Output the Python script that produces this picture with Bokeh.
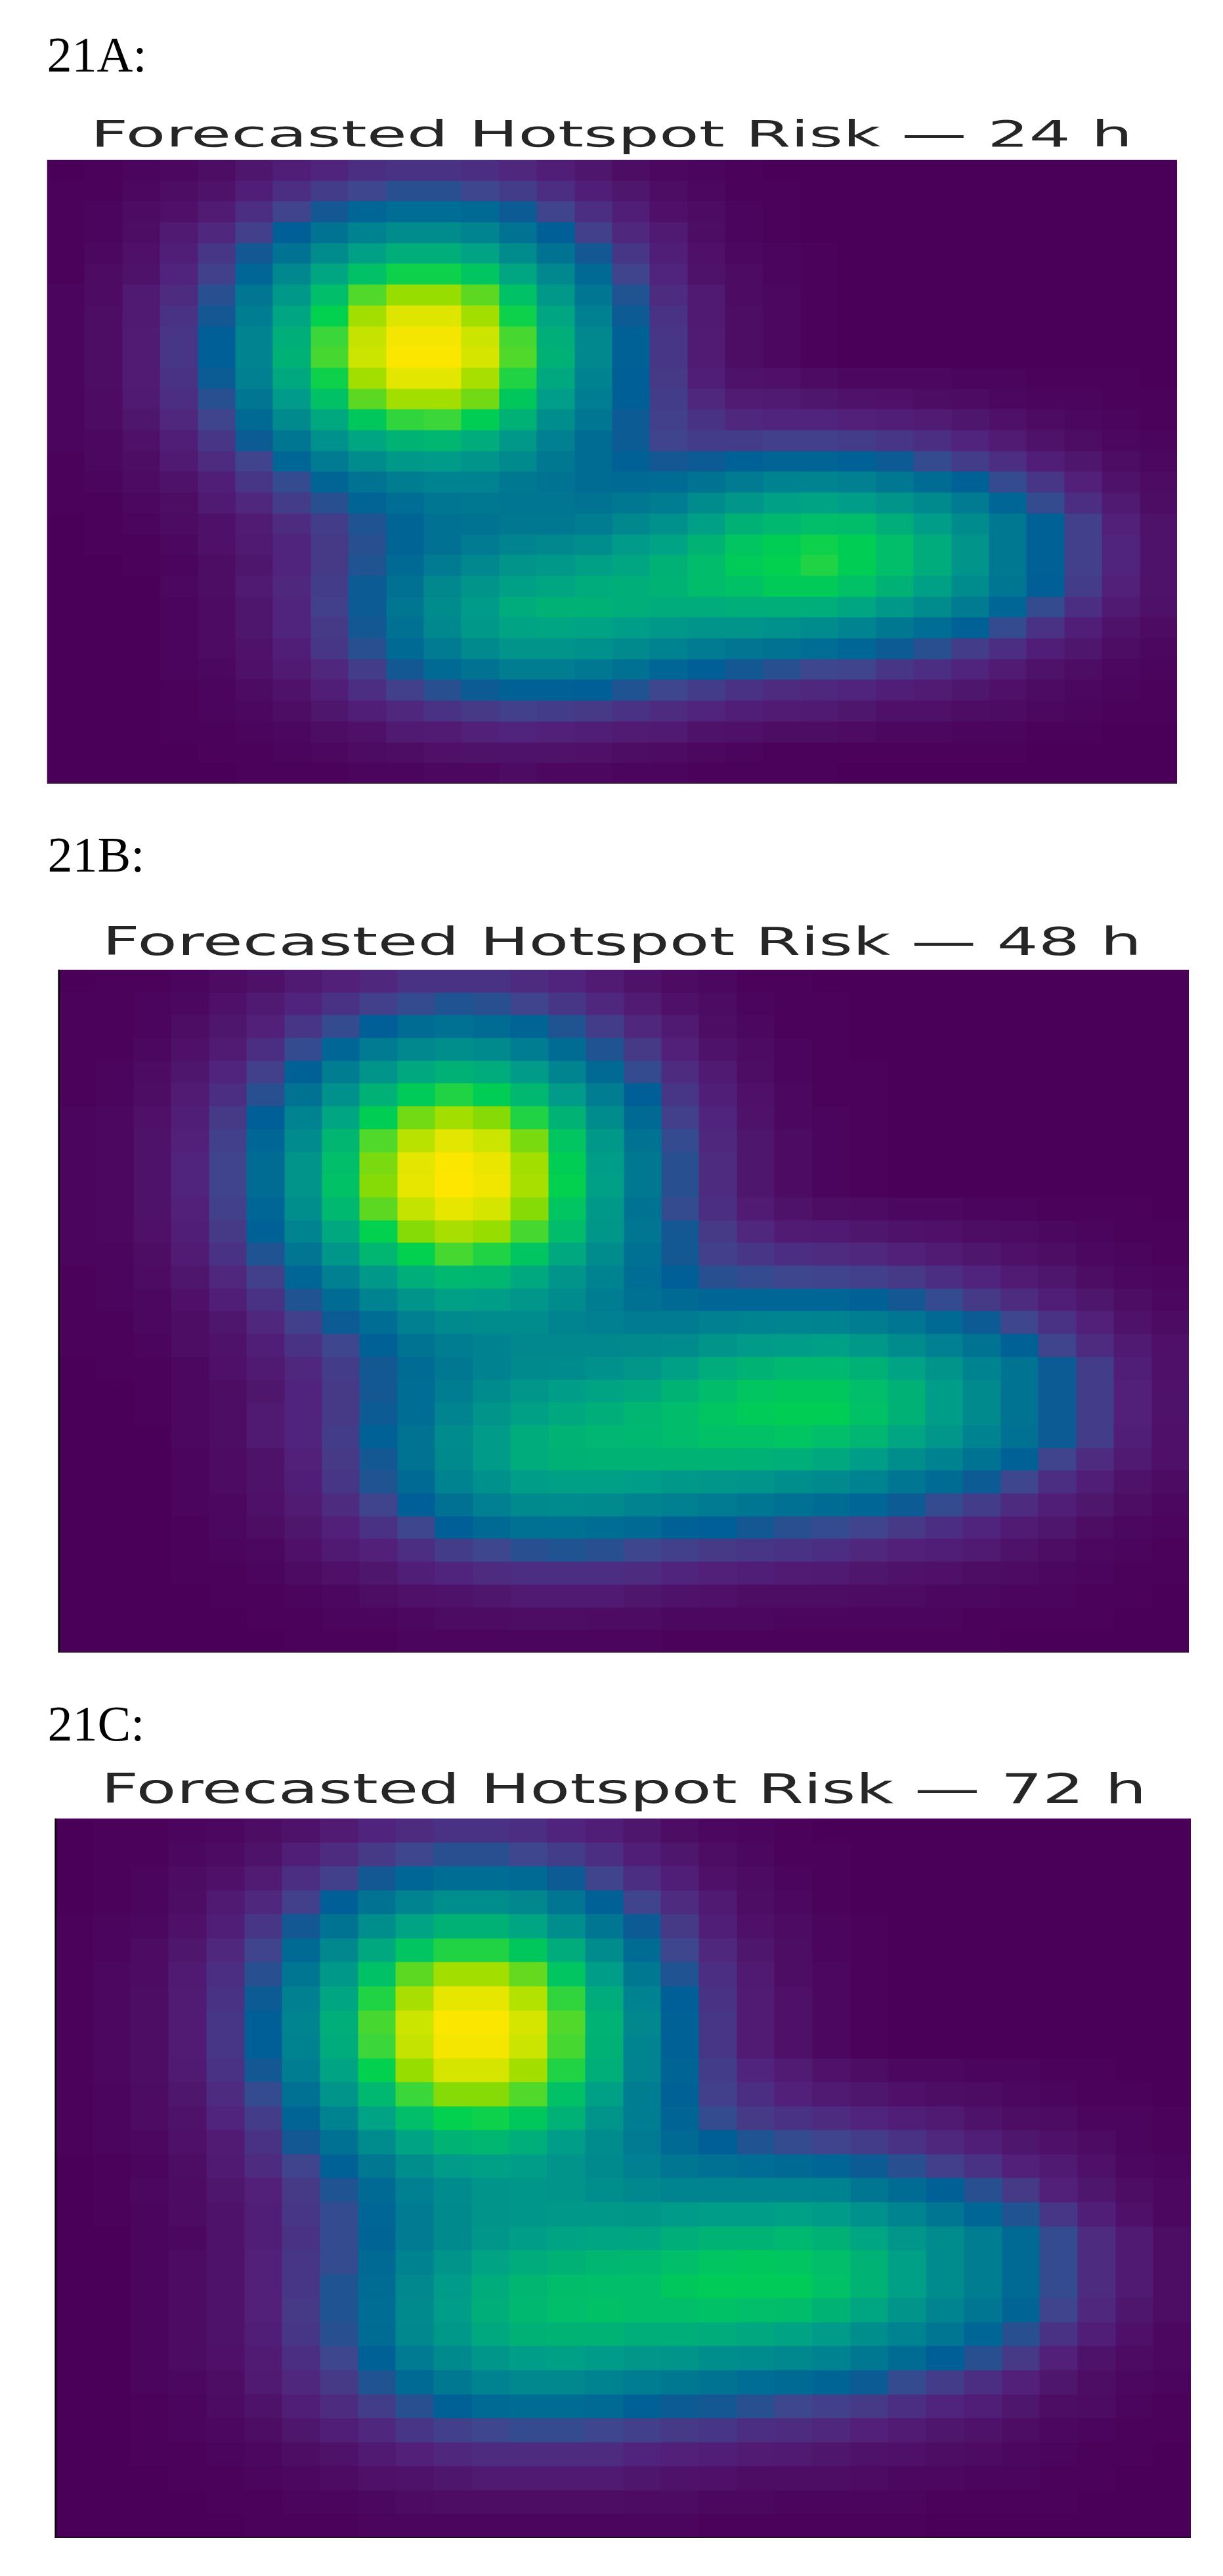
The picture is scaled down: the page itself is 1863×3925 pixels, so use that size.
import numpy as np
from bokeh.core.properties import value
from bokeh.embed import file_html
from bokeh.layouts import column
from bokeh.models import LinearColorMapper, Range1d, Span
from bokeh.plotting import figure
from bokeh.resources import INLINE

# Risk values (0-100), top row first. Estimated by eye from the reference,
# on a 30x30 grid that is coarser than the roughly 60x60 grid of the original.
risk_24h = [
[0,1,2,3,5,8,11,13,16,17,17,16,14,11,8,5,3,2,1,0,0,0,0,0,0,0,0,0,0,0],
[1,1,3,5,7,11,16,20,23,25,25,23,20,16,11,8,5,3,1,1,0,0,0,0,0,0,0,0,0,0],
[1,2,4,6,10,16,22,27,32,35,35,33,28,22,16,11,6,4,2,1,0,0,0,0,0,0,0,0,0,0],
[1,2,5,9,14,21,29,37,43,47,47,44,37,29,21,14,9,5,2,1,0,0,0,0,0,0,0,0,0,0],
[1,3,6,11,18,27,37,47,55,60,60,56,47,37,27,18,11,6,3,2,1,0,0,0,0,0,0,0,0,0],
[1,4,7,13,21,32,45,57,67,73,73,68,57,45,33,22,13,7,4,2,1,0,0,0,0,0,0,0,0,0],
[2,4,9,15,25,38,52,66,78,85,85,79,67,52,38,26,15,9,4,3,1,0,0,0,0,0,0,0,0,0],
[2,5,9,17,27,41,57,72,86,93,93,86,73,57,42,28,17,9,5,3,1,0,0,0,0,0,0,0,0,0],
[2,5,10,18,29,44,60,76,90,98,98,91,77,60,45,30,18,10,5,3,1,0,0,0,0,0,0,0,0,0],
[2,5,10,18,29,44,61,77,91,99,99,92,78,61,45,30,18,10,5,3,1,0,0,0,0,0,0,0,0,0],
[2,5,10,17,28,42,58,73,86,94,94,87,74,58,43,29,19,11,7,6,4,3,3,3,2,2,1,1,1,0],
[2,4,9,16,25,38,53,67,79,86,86,81,69,54,41,29,20,14,10,9,8,7,6,5,4,3,2,2,1,1],
[2,4,8,14,22,33,46,58,69,75,76,71,61,48,38,28,21,17,14,13,13,12,11,10,8,6,4,3,2,1],
[2,3,6,11,18,28,38,49,57,62,63,59,52,42,34,28,22,20,20,21,21,20,18,16,13,10,7,5,3,2],
[1,3,5,9,15,22,32,40,47,52,53,50,46,39,34,30,27,28,30,31,31,30,28,24,20,16,11,8,5,3],
[1,2,4,7,11,18,24,31,37,41,43,43,39,37,34,33,34,37,40,43,44,42,39,34,30,24,18,12,7,4],
[1,1,3,5,9,14,20,25,31,35,38,39,38,38,37,39,41,47,51,55,56,54,50,46,40,32,24,16,9,5],
[0,1,2,4,6,10,15,20,26,31,36,37,39,39,41,45,49,55,61,64,66,65,60,54,47,39,30,21,12,7],
[0,1,1,3,6,9,13,19,25,31,36,40,44,45,48,53,56,62,68,71,73,71,66,59,50,39,30,21,13,7],
[0,0,1,2,5,8,13,19,26,33,40,45,50,52,55,57,61,65,70,72,74,71,66,59,50,39,30,21,13,7],
[0,0,0,3,5,9,14,20,28,36,45,50,55,57,59,60,62,65,67,70,70,67,61,55,47,38,29,20,12,7],
[0,0,0,2,4,8,13,21,28,38,47,53,59,61,61,60,59,59,60,60,60,57,52,47,40,32,24,16,9,6],
[0,0,0,2,4,8,13,19,27,36,45,52,56,57,56,54,52,50,50,49,47,44,39,35,30,24,17,11,7,4],
[0,0,0,2,4,7,11,18,25,33,40,46,50,50,49,46,43,40,38,37,35,32,28,25,20,16,11,8,5,3],
[0,0,0,2,3,6,9,14,20,27,33,37,41,41,39,36,32,29,27,25,23,22,18,16,13,10,7,5,3,2],
[0,0,0,1,2,4,7,11,16,21,25,28,30,30,29,26,23,20,17,15,14,13,11,10,8,6,4,3,2,1],
[0,0,0,1,2,3,5,8,11,14,17,19,21,20,19,17,15,13,11,10,9,8,6,6,5,4,3,2,1,1],
[0,0,0,1,1,2,3,5,6,9,10,12,13,12,11,10,9,7,6,5,5,4,3,3,2,2,1,1,0,0],
[0,0,0,0,1,1,2,3,4,5,6,7,7,7,6,5,4,3,2,1,1,1,1,1,1,1,0,0,0,0],
[0,0,0,0,0,1,1,1,2,2,3,3,4,3,3,2,2,1,1,1,1,0,0,0,0,0,0,0,0,0],
]
risk_48h = [
[0,1,1,2,4,6,9,12,14,17,17,17,15,13,10,7,4,3,1,1,0,0,0,0,0,0,0,0,0,0],
[1,1,2,3,6,9,13,17,21,24,26,25,22,18,14,10,6,4,2,1,1,0,0,0,0,0,0,0,0,0],
[1,1,2,5,8,12,18,24,29,34,36,34,31,26,20,14,9,5,3,1,1,0,0,0,0,0,0,0,0,0],
[1,1,3,6,10,16,24,32,40,45,48,46,41,34,26,19,12,7,4,2,1,0,0,0,0,0,0,0,0,0],
[1,2,4,8,13,21,30,41,50,58,61,59,53,44,33,24,15,9,5,2,1,1,0,0,0,0,0,0,0,0],
[1,2,5,10,16,25,37,49,61,70,74,71,64,53,41,29,18,11,6,3,1,1,0,0,0,0,0,0,0,0],
[2,3,6,11,19,29,43,57,71,81,86,83,74,62,47,33,21,13,7,3,2,1,0,0,0,0,0,0,0,0],
[2,3,7,12,21,32,47,63,78,89,94,91,82,68,52,37,24,14,8,4,2,1,0,0,0,0,0,0,0,0],
[2,3,7,13,22,34,50,66,82,94,99,96,86,71,54,39,25,15,8,4,2,1,0,0,0,0,0,0,0,0],
[2,3,7,13,22,34,50,67,83,95,100,97,87,72,55,39,25,15,8,4,2,1,0,0,0,0,0,0,0,0],
[2,3,7,12,21,32,48,64,79,90,95,92,83,68,52,37,24,16,10,7,5,4,3,3,2,2,1,1,1,0],
[2,3,6,11,19,30,44,58,72,83,87,85,77,65,51,38,27,19,14,10,9,8,7,6,5,4,3,2,1,1],
[2,2,5,10,17,26,38,51,63,72,77,74,68,58,47,36,27,21,18,16,15,14,12,10,8,6,5,3,2,1],
[1,2,4,8,14,21,32,42,52,60,64,63,58,50,43,35,29,25,24,23,22,21,19,16,13,10,8,5,3,2],
[1,2,3,6,11,17,26,34,43,50,55,54,51,47,41,36,33,32,32,32,32,30,27,24,19,15,11,8,5,3],
[1,1,3,5,8,14,21,28,35,42,46,47,47,44,42,40,40,42,43,44,43,41,38,33,28,23,17,12,7,4],
[1,1,2,5,7,11,17,23,30,37,41,43,45,45,45,46,47,50,53,54,55,52,47,42,37,30,22,15,9,6],
[0,1,1,3,6,9,14,20,27,34,39,43,46,47,49,51,55,59,62,64,64,61,56,50,43,37,28,20,11,6],
[0,0,1,3,5,8,13,19,27,35,41,47,51,54,56,58,62,65,68,69,69,66,61,54,46,37,28,20,12,7],
[0,0,1,3,5,9,13,19,28,35,44,50,55,58,60,63,65,68,70,71,71,67,61,54,46,37,28,20,12,7],
[0,0,0,3,5,9,13,20,30,37,47,53,59,62,63,64,65,67,67,68,66,63,57,51,43,36,28,20,11,6],
[0,0,0,2,4,7,12,19,27,37,46,53,59,61,62,62,62,62,61,60,58,54,48,43,37,30,22,15,9,6],
[0,0,0,2,4,7,11,18,26,33,43,49,54,55,55,54,52,51,50,48,46,43,38,34,28,23,16,11,7,4],
[0,0,0,2,3,6,10,15,22,29,36,42,46,47,46,44,42,40,38,36,34,32,28,24,20,15,11,8,5,3],
[0,0,0,1,3,5,8,12,17,23,29,33,36,36,35,33,30,29,27,25,24,22,19,16,13,10,8,5,3,2],
[0,0,0,1,2,3,6,9,12,16,20,23,25,26,25,23,21,19,18,17,16,14,12,11,9,7,5,3,2,1],
[0,0,0,1,1,2,4,6,8,11,13,15,16,16,16,15,13,12,11,10,9,8,7,6,5,4,3,2,1,1],
[0,0,0,0,1,1,2,3,5,6,7,8,9,9,9,8,7,6,5,5,5,4,4,3,3,2,2,1,1,0],
[0,0,0,0,0,1,1,2,2,3,4,4,5,5,4,4,3,3,3,2,2,2,2,2,1,1,1,1,0,0],
[0,0,0,0,0,0,1,1,1,2,2,2,2,2,2,2,1,1,1,1,1,1,1,1,1,0,0,0,0,0],
]
risk_72h = [
[0,1,1,2,3,5,7,10,13,15,17,17,16,13,11,8,5,3,2,1,0,0,0,0,0,0,0,0,0,0],
[0,1,1,3,4,7,11,15,19,23,25,25,23,20,16,11,8,5,3,1,1,0,0,0,0,0,0,0,0,0],
[0,1,2,4,6,10,16,21,27,32,35,35,33,28,22,16,11,6,4,2,1,0,0,0,0,0,0,0,0,0],
[0,1,2,5,9,14,21,29,37,44,48,48,45,38,30,22,15,9,5,3,1,0,0,0,0,0,0,0,0,0],
[1,2,3,6,11,18,27,37,48,56,61,61,57,48,38,28,19,11,6,4,2,1,0,0,0,0,0,0,0,0],
[1,2,4,8,14,22,33,45,58,68,74,74,69,59,47,34,23,14,8,5,2,1,0,0,0,0,0,0,0,0],
[1,3,4,9,16,25,38,52,67,79,86,86,80,68,54,39,26,16,9,5,3,1,0,0,0,0,0,0,0,0],
[1,3,5,10,17,28,42,57,74,87,95,95,88,75,59,43,29,17,10,6,3,1,0,0,0,0,0,0,0,0],
[1,3,5,10,18,29,44,60,77,91,99,99,92,78,62,45,30,18,10,6,3,1,0,0,0,0,0,0,0,0],
[1,3,5,10,18,29,43,59,76,90,98,98,91,77,61,44,30,18,10,6,3,1,0,0,0,0,0,0,0,0],
[1,3,5,9,17,27,41,56,72,85,92,92,86,74,60,44,31,20,13,10,7,5,3,3,2,2,1,1,0,0],
[1,2,4,8,15,24,36,50,64,76,83,83,78,67,55,41,30,21,16,12,9,8,6,5,4,3,2,1,1,0],
[1,2,4,7,13,20,31,43,56,66,72,73,69,61,50,41,31,24,19,17,15,13,11,9,7,5,4,2,2,1],
[1,2,3,6,10,17,27,36,47,56,62,63,60,54,47,40,33,29,26,24,22,20,17,14,11,8,6,4,2,1],
[0,1,2,5,9,15,22,30,39,48,53,55,54,50,46,42,38,36,35,33,32,28,25,21,17,12,9,6,3,2],
[0,1,3,4,8,12,19,26,33,42,47,50,51,50,48,45,44,44,44,44,43,38,34,30,25,19,12,8,5,3],
[0,1,2,4,7,11,18,24,32,40,46,50,51,52,52,51,53,54,54,55,53,49,44,38,32,26,18,11,6,3],
[0,0,2,3,7,11,17,24,31,40,46,51,54,56,57,57,60,62,62,64,61,57,51,47,41,33,24,15,9,5],
[0,0,2,4,7,12,18,24,33,43,50,56,59,61,63,64,66,68,69,68,66,62,55,47,41,33,24,15,9,5],
[0,0,2,4,7,12,18,26,34,45,53,59,63,65,66,66,69,70,70,70,67,62,55,47,41,33,24,15,9,5],
[0,0,2,4,7,12,19,26,35,46,54,60,64,66,67,66,66,67,66,65,62,57,50,44,38,31,22,14,8,5],
[0,0,2,4,7,11,18,25,34,45,52,58,61,62,62,60,60,59,58,56,53,48,43,38,32,25,17,11,6,3],
[0,0,2,4,6,10,16,23,30,40,46,51,54,55,53,51,50,48,47,45,43,39,34,29,25,19,12,7,4,3],
[0,0,2,3,5,9,14,19,26,33,39,43,45,45,43,41,39,37,35,33,31,28,24,20,16,12,8,5,3,2],
[0,0,1,2,4,7,11,15,20,25,30,33,34,34,33,30,28,27,25,23,21,19,16,13,11,8,5,4,2,1],
[0,0,1,2,3,5,8,11,14,18,21,23,24,24,23,21,19,18,16,15,14,12,10,8,7,5,3,2,1,1],
[0,0,1,1,2,3,5,7,9,12,14,15,15,15,15,13,12,11,10,9,8,7,6,5,4,3,2,1,1,0],
[0,0,0,1,1,2,3,4,6,7,8,9,9,9,9,8,7,6,5,5,5,4,3,3,2,2,1,1,0,0],
[0,0,0,0,1,1,2,2,3,4,5,5,5,5,5,4,4,3,3,2,2,2,2,1,1,1,1,0,0,0],
[0,0,0,0,0,1,1,1,2,2,2,2,2,2,2,2,2,1,1,1,1,1,1,0,0,0,0,0,0,0],
]
panel_labels = ["21A:", "21B:", "21C:"]
titles = ["Forecasted Hotspot Risk — 24 h", "Forecasted Hotspot Risk — 48 h", "Forecasted Hotspot Risk — 72 h"]

stops = [0, 12, 23, 29, 42, 55, 66, 72, 76, 84, 93, 100]
stop_colors = [(74, 0, 88), (82, 33, 122), (62, 72, 142), (0, 95, 150), (0, 128, 145),
               (0, 160, 135), (0, 190, 105), (0, 208, 80), (58, 214, 58), (143, 220, 0),
               (220, 230, 0), (255, 230, 0)]
grid = np.linspace(0, 100, 256)
palette = ["#%02x%02x%02x" % tuple(int(round(np.interp(g, stops, [c[k] for c in stop_colors]))) for k in range(3))
           for g in grid]
mapper = LinearColorMapper(palette=palette, low=0, high=100)


def bare(w, h, margin, xr=None, yr=None, **kw):
    p = figure(width=w, height=h, output_backend="svg", toolbar_location=None, margin=margin,
               x_range=Range1d(*(xr or (0, w))), y_range=Range1d(*(yr or (0, h))),
               min_border=0, **kw)
    p.axis.visible = False
    p.grid.visible = False
    p.outline_line_color = None
    p.background_fill_color = None
    p.border_fill_color = None
    return p


def label_fig(text, h, base, left):
    p = bare(500, h, (0, 0, 0, 0))
    p.text(x=[left], y=[base + 18], text=[text], text_font=value("Liberation Serif"), text_font_size="76px",
           text_color="#000000", text_baseline="alphabetic", text_align="left")
    return p


def title_fig(text, w, h, base, left, font_px, stretch):
    p = bare(w, h, (0, 0, 0, left), styles={"transform": f"scaleX({stretch})", "transform-origin": "left center"})
    p.text(x=[0], y=[base + 0.236 * font_px], text=[text], text_font=value("DejaVu Sans"), text_font_size=f"{font_px}px",
           text_color="#262626", text_baseline="alphabetic", text_align="left")
    return p


def heat_fig(values, w, h, top, left, spine_left, spine_bottom):
    arr = np.array(values, dtype=float)[::-1]
    rows, cols = arr.shape
    p = bare(w, h, (top, 0, 0, left), xr=(0, cols), yr=(0, rows))
    p.image(image=[arr], x=0, y=0, dw=cols, dh=rows, color_mapper=mapper)
    if spine_left:
        p.add_layout(Span(location=0, dimension="height", line_color="#000000", line_width=5))
    if spine_bottom:
        p.add_layout(Span(location=0, dimension="width", line_color="#111111", line_width=spine_bottom))
    return p


layout = column(
    label_fig(panel_labels[0], 130, 30, 71),
    title_fig(titles[0], 950, 110, 24, 137, 55, 1.808),
    heat_fig(risk_24h, 1722, 951, 3, 71, False, 3),
    label_fig(panel_labels[1], 156, 31, 72),
    title_fig(titles[1], 1000, 124, 26, 155, 58, 1.71),
    heat_fig(risk_48h, 1723, 1041, 3, 88, True, 3),
    label_fig(panel_labels[2], 157, 32, 72),
    title_fig(titles[2], 1040, 92, 27, 153, 62, 1.609),
    heat_fig(risk_72h, 1731, 1097, 3, 83, True, 4),
    spacing=0,
)

open("out.html", "w").write(file_html(layout, INLINE))
